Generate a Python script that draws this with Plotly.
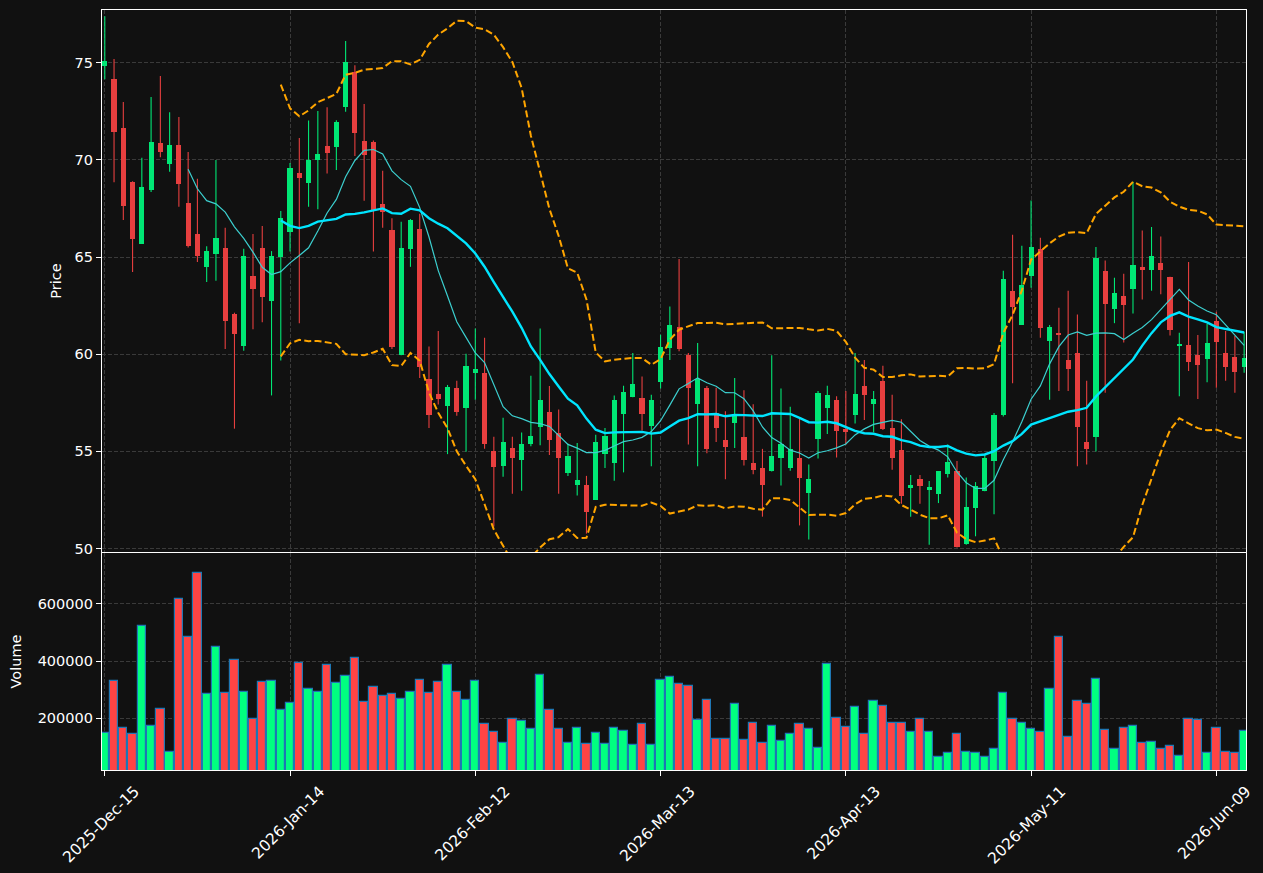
import numpy as np
import pandas as pd
import plotly.graph_objects as go

# ---------------- data ----------------
OPEN = [74.82, 74.19, 71.67, 68.88, 65.70, 68.47, 70.85, 69.77, 70.79, 67.81,
        66.21, 64.48, 65.14, 65.49, 62.05, 60.41, 64.05, 65.49, 62.73, 65.00,
        66.28, 69.35, 68.80, 69.98, 70.74, 70.65, 72.75, 74.55, 70.99, 70.95,
        67.75, 66.42, 59.95, 65.43, 66.47, 58.74, 57.93, 57.36, 58.24, 57.25,
        59.01, 59.06, 55.04, 54.24, 55.20, 54.55, 55.40, 56.24, 57.05, 55.97,
        53.90, 53.26, 53.29, 52.52, 54.86, 54.42, 56.94, 57.79, 57.77, 56.29,
        58.56, 60.31, 61.42, 59.95, 57.43, 58.24, 56.98, 55.61, 56.44, 55.72,
        54.42, 54.17, 53.97, 54.64, 54.14, 54.68, 52.84, 55.63, 57.23, 57.63,
        56.13, 56.87, 58.38, 57.46, 58.60, 56.22, 55.09, 53.11, 53.60, 52.99,
        52.81, 53.83, 53.99, 50.23, 52.09, 52.95, 54.50, 56.89, 63.27, 61.53,
        64.05, 65.43, 60.67, 61.10, 59.68, 60.04, 55.50, 55.72, 64.30, 62.32,
        63.00, 63.35, 64.50, 64.32, 64.68, 63.99, 60.45, 60.50, 59.98, 59.75,
        61.73, 60.04, 59.86, 59.37]
HIGH = [77.40, 75.20, 72.99, 68.90, 70.11, 73.24, 74.32, 72.46, 72.21, 70.41,
        69.03, 65.56, 70.00, 66.51, 62.14, 65.43, 66.19, 66.60, 65.31, 67.37,
        69.84, 71.13, 72.03, 72.52, 72.72, 72.05, 76.13, 74.87, 72.88, 71.00,
        69.44, 67.00, 66.82, 66.96, 67.23, 60.40, 61.20, 58.42, 58.63, 60.02,
        61.33, 60.85, 55.76, 56.73, 55.76, 55.97, 58.90, 61.33, 58.36, 57.16,
        55.40, 55.43, 53.74, 55.86, 56.20, 57.88, 58.38, 60.07, 58.85, 57.91,
        61.00, 62.46, 64.90, 60.07, 60.58, 58.36, 58.27, 57.07, 58.78, 58.15,
        57.43, 55.13, 59.95, 58.24, 57.30, 56.76, 54.32, 58.11, 58.38, 57.84,
        58.11, 60.07, 59.71, 58.11, 59.41, 57.91, 56.65, 53.79, 53.79, 53.47,
        53.99, 55.36, 54.50, 53.65, 53.42, 54.82, 56.98, 64.30, 66.15, 65.58,
        67.91, 66.00, 61.51, 62.40, 63.27, 62.05, 58.63, 65.52, 64.82, 63.94,
        64.14, 68.88, 66.37, 66.55, 66.06, 63.99, 61.11, 64.75, 60.99, 61.56,
        62.19, 61.20, 60.94, 61.15]
LOW = [74.15, 68.85, 66.91, 64.23, 65.70, 68.35, 70.14, 69.39, 67.59, 65.50,
       64.75, 63.72, 63.78, 60.27, 56.17, 60.18, 61.29, 61.65, 57.88, 59.68,
       65.29, 61.60, 67.59, 67.46, 69.30, 69.48, 72.48, 70.20, 67.90, 65.29,
       66.51, 60.27, 59.95, 64.50, 58.78, 56.20, 57.41, 54.86, 56.83, 54.98,
       57.66, 55.14, 51.13, 53.69, 52.82, 52.97, 55.27, 55.31, 54.82, 52.82,
       53.74, 52.73, 50.77, 52.52, 54.14, 53.49, 53.92, 57.79, 56.08, 54.23,
       58.24, 59.71, 60.16, 55.36, 54.23, 54.91, 55.49, 53.56, 55.18, 54.28,
       53.83, 51.64, 53.97, 53.24, 54.01, 51.19, 50.47, 54.64, 55.90, 54.68,
       55.36, 56.44, 56.62, 55.99, 56.10, 54.06, 52.30, 51.64, 52.30, 50.20,
       52.34, 53.65, 50.05, 50.20, 50.63, 52.95, 51.76, 56.80, 58.51, 61.53,
       63.42, 60.85, 57.66, 58.11, 58.11, 54.23, 54.32, 55.00, 58.02, 61.60,
       60.61, 62.10, 62.82, 63.27, 63.09, 60.97, 57.84, 59.14, 57.70, 58.56,
       58.27, 58.63, 58.02, 59.05]
CLOSE = [75.11, 71.42, 67.64, 65.95, 68.63, 70.95, 70.43, 70.79, 68.76, 65.56,
         65.05, 65.29, 66.01, 61.71, 61.03, 65.04, 63.35, 62.97, 65.04, 67.01,
         69.60, 69.05, 70.02, 70.32, 70.34, 71.98, 75.02, 71.37, 70.25, 67.45,
         67.30, 60.36, 65.49, 66.89, 59.37, 56.85, 57.72, 58.29, 57.01, 59.42,
         59.26, 55.40, 54.19, 55.50, 54.66, 55.40, 55.81, 57.63, 55.58, 54.64,
         54.78, 53.51, 51.87, 55.50, 55.81, 57.63, 58.06, 58.49, 56.94, 57.63,
         60.36, 61.53, 60.25, 58.24, 58.72, 55.14, 56.22, 55.22, 56.89, 54.55,
         54.06, 53.26, 54.78, 55.40, 55.13, 53.65, 53.60, 58.00, 57.91, 56.04,
         56.04, 57.94, 57.88, 57.70, 56.17, 54.64, 52.70, 53.29, 53.20, 53.17,
         53.99, 54.46, 50.09, 52.16, 53.24, 54.64, 56.89, 63.85, 62.43, 63.56,
         65.54, 61.33, 61.42, 61.00, 59.23, 56.24, 55.14, 64.98, 62.61, 63.13,
         62.55, 64.57, 64.35, 65.04, 64.35, 61.24, 60.54, 59.59, 59.44, 60.58,
         60.61, 59.37, 59.08, 59.80]
VOLUME = [147500, 329500, 165000, 144000, 522000, 172000, 231500, 81000, 616000, 483500,
          707000, 284000, 448500, 287500, 403000, 291000, 196500, 326000, 329500, 228000,
          252500, 392500, 301500, 291000, 385500, 322500, 347000, 410000, 256000, 308500,
          277000, 284000, 266500, 291000, 333000, 287500, 326000, 385500, 291000, 263000,
          329500, 179000, 151000, 112500, 196500, 192000, 164000, 350500, 228000, 164000,
          112500, 167500, 109000, 147500, 109000, 167500, 157000, 105500, 179000, 105500,
          333000, 343500, 319000, 312000, 193000, 263000, 126500, 126500, 249000, 123000,
          182500, 112500, 172000, 119500, 144000, 179000, 161500, 95000, 389000, 200000,
          168500, 238500, 144000, 259500, 242000, 182500, 182500, 151000, 196500, 151000,
          66000, 77500, 144000, 81000, 77500, 66000, 91500, 287500, 196500, 182500,
          164000, 151000, 301500, 483500, 133500, 259500, 249000, 336500, 158000, 91500,
          165000, 172000, 112500, 116000, 91500, 102000, 69500, 196500, 193000, 77500,
          165000, 81000, 77500, 154500]
TICK_POS = [0, 20, 40, 60, 80, 100, 120]
TICK_LABELS = ["2025-Dec-15", "2026-Jan-14", "2026-Feb-12", "2026-Mar-13",
               "2026-Apr-13", "2026-May-11", "2026-Jun-09"]
PRICE_TICKS = [50, 55, 60, 65, 70, 75]
VOL_TICKS = [200000, 400000, 600000]

# ---------------- styling ----------------
BG = "#111111"
UP_C, DOWN_C = "#00E775", "#E73F3F"
VUP_C, VDOWN_C = "#00FF80", "#FF4444"
GRID = "#3a3a3a"
FONT = "DejaVu Sans"
FS = 14.5
FSX = 15.5

n = len(CLOSE)
idx = list(range(n))
close = pd.Series(CLOSE)
ma10 = close.rolling(10).mean()
ma20 = close.rolling(20).mean()
sd20 = close.rolling(20).std(ddof=0)
upper = ma20 + 2 * sd20
lower = ma20 - 2 * sd20

is_up = [c >= o for o, c in zip(OPEN, CLOSE)]

fig = go.Figure()

def add_wicks(flag, color):
    xs, ys = [], []
    for i in idx:
        if is_up[i] == flag:
            xs += [i, i, None]
            ys += [LOW[i], HIGH[i], None]
    fig.add_trace(go.Scatter(x=xs, y=ys, mode="lines", line=dict(color=color, width=1.1),
                             xaxis="x", yaxis="y", hoverinfo="skip"))

def add_bodies(flag, color):
    xs = [i for i in idx if is_up[i] == flag]
    base = [min(OPEN[i], CLOSE[i]) for i in xs]
    h = [max(abs(CLOSE[i] - OPEN[i]), 0.06) for i in xs]
    fig.add_trace(go.Bar(x=xs, y=h, base=base, width=0.56, marker=dict(color=color, line=dict(width=0)),
                         xaxis="x", yaxis="y"))

add_wicks(True, UP_C)
add_wicks(False, DOWN_C)
add_bodies(True, UP_C)
add_bodies(False, DOWN_C)

fig.add_trace(go.Scatter(x=idx, y=ma10, mode="lines", line=dict(color="#3CCFCF", width=1.2),
                         xaxis="x", yaxis="y"))
fig.add_trace(go.Scatter(x=idx, y=ma20, mode="lines", line=dict(color="#00E5FF", width=2.4),
                         xaxis="x", yaxis="y"))
for band in (upper, lower):
    fig.add_trace(go.Scatter(x=idx, y=band, mode="lines",
                             line=dict(color="#FFA500", width=2, dash="7px,3.3px"),
                             xaxis="x", yaxis="y"))

vcolors = [VUP_C if u else VDOWN_C for u in is_up]
fig.add_trace(go.Bar(x=idx, y=VOLUME, width=0.9,
                     marker=dict(color=vcolors, line=dict(color="#1f77b4", width=1.2)),
                     xaxis="x2", yaxis="y2"))

XR = [-0.3, 123.2]
common_x = dict(range=XR, tickvals=TICK_POS, showgrid=True, gridcolor=GRID, griddash="4px,2px",
                gridwidth=1, showline=True, mirror=True, linecolor="white", linewidth=1.2,
                zeroline=False, automargin=False)
common_y = dict(showgrid=True, gridcolor=GRID, griddash="4px,2px", gridwidth=1,
                showline=True, mirror=True, linecolor="white", linewidth=1.2, zeroline=False,
                ticks="outside", ticklen=5, tickcolor="white", tickwidth=1, automargin=False,
                tickfont=dict(color="white", size=FS, family=FONT))

fig.update_layout(
    width=1263, height=873,
    paper_bgcolor=BG, plot_bgcolor=BG,
    margin=dict(l=102, r=17, t=10, b=103, autoexpand=False),
    showlegend=False, barmode="overlay", bargap=0,
    font=dict(family=FONT, color="white", size=FS),
    xaxis=dict(domain=[0, 1], anchor="y", showticklabels=False, ticks="", **common_x),
    xaxis2=dict(domain=[0, 1], anchor="y2", ticktext=TICK_LABELS, tickangle=-45,
                ticks="outside", ticklen=5, tickcolor="white", ticklabelshift=30,
                ticklabeloverflow="allow",
                tickfont=dict(color="white", size=FSX, family=FONT), **common_x),
    yaxis=dict(domain=[0.2868, 1], range=[49.82, 77.72], tickvals=PRICE_TICKS,
               title=dict(text="Price", standoff=9, font=dict(size=FS, color="white")),
               **common_y),
    yaxis2=dict(domain=[0, 0.2855], range=[19000, 778000], tickvals=VOL_TICKS,
                ticktext=[str(v) for v in VOL_TICKS],
                title=dict(text="Volume", standoff=12, font=dict(size=FS, color="white")),
                **common_y),
)

fig.write_html("out.html")
